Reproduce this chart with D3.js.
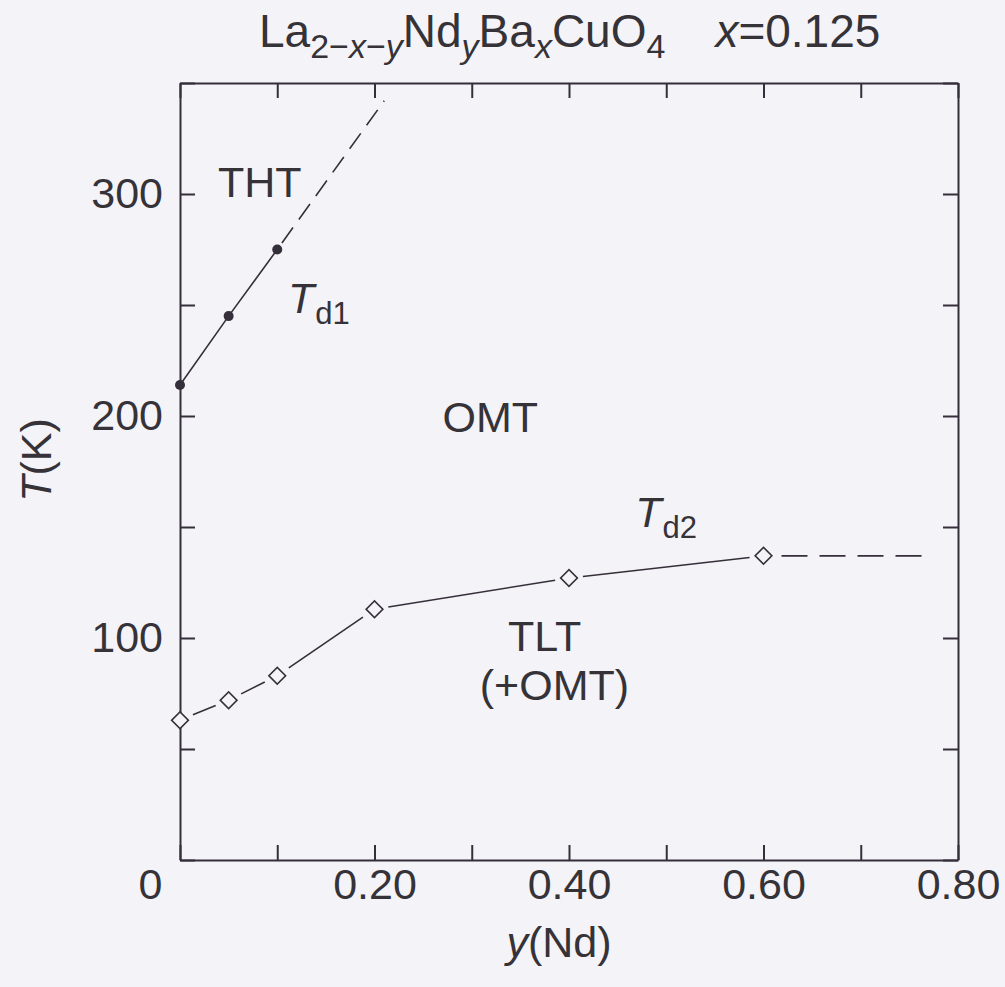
<!DOCTYPE html>
<html>
<head>
<meta charset="utf-8">
<script src="https://cdn.jsdelivr.net/npm/d3@7"></script>
<style>
  html, body { margin: 0; padding: 0; background: #f4f3f7; }
  svg { display: block; }
  text { font-family: "Liberation Sans", Arial, Helvetica, sans-serif; fill: #353238; }
</style>
</head>
<body>
<svg id="chart" width="1005" height="987"></svg>
<script>
// Nd content y and transition temperatures (K)
const ndTd1 = [0, 0.05, 0.10];
const td1 = [214, 245, 275];
const ndTd1Ext = [0.10, 0.21];          // extrapolated THT/OMT boundary
const td1Ext = [275, 342];

const ndTd2 = [0, 0.05, 0.10, 0.20, 0.40, 0.60];
const td2 = [63, 72, 83, 113, 127, 137];
const ndTd2Ext = [0.60, 0.77];          // extrapolated OMT/TLT boundary
const td2Ext = [137, 137];

const xTicks = [0, 0.1, 0.2, 0.3, 0.4, 0.5, 0.6, 0.7, 0.8];
const xTickLabels = ["0", "", "0.20", "", "0.40", "", "0.60", "", "0.80"];
const yTicks = [0, 50, 100, 150, 200, 250, 300, 350];
const yTickLabels = ["", "", "100", "", "200", "", "300", ""];

// phase-region labels, placed in data coordinates
const regionNames = ["THT", "OMT", "TLT", "(+OMT)"];
const regionNd = [0.039, 0.270, 0.375, 0.385];
const regionT = [298.5, 193, 94, 72];
const regionAnchor = ["start", "start", "middle", "middle"];

const ink = "#352f3b";
const svg = d3.select("#chart");

const mLeft = 180, mRight = 958, mTop = 83, mBottom = 860;
const x = d3.scaleLinear().domain([0, 0.8]).range([mLeft, mRight]);
const y = d3.scaleLinear().domain([0, 350]).range([mBottom, mTop]);

// ---- axes: inward ticks on all four sides ----
function styleAxis(g) {
  g.selectAll(".domain").attr("stroke", ink).attr("stroke-width", 2);
  g.selectAll(".tick line").attr("stroke", ink).attr("stroke-width", 2);
  g.selectAll(".tick text").attr("fill", "#353238")
    .style("font-family", '"Liberation Sans", Arial, sans-serif')
    .style("font-size", "43px");
}

svg.append("g")
  .attr("transform", `translate(0,${mBottom})`)
  .call(d3.axisBottom(x).tickValues(xTicks).tickSizeInner(-15).tickSizeOuter(0)
        .tickPadding(8).tickFormat((d, i) => xTickLabels[i]))
  .call(styleAxis)
  .call(g => g.selectAll(".tick text").filter(d => d === 0).attr("dx", -30));

svg.append("g")
  .attr("transform", `translate(0,${mTop})`)
  .call(d3.axisTop(x).tickValues(xTicks).tickSizeInner(-15).tickSizeOuter(0).tickFormat(""))
  .call(styleAxis);

svg.append("g")
  .attr("transform", `translate(${mLeft},0)`)
  .call(d3.axisLeft(y).tickValues(yTicks).tickSizeInner(-15).tickSizeOuter(0)
        .tickPadding(17).tickFormat((d, i) => yTickLabels[i]))
  .call(styleAxis);

svg.append("g")
  .attr("transform", `translate(${mRight},0)`)
  .call(d3.axisRight(y).tickValues(yTicks).tickSizeInner(-15).tickSizeOuter(0).tickFormat(""))
  .call(styleAxis);

// ---- axis titles ----
svg.append("text")
  .attr("x", (mLeft + mRight) / 2 - 10).attr("y", 957)
  .attr("text-anchor", "middle").style("font-size", "43px")
  .call(t => {
    t.append("tspan").attr("font-style", "italic").text("y");
    t.append("tspan").text("(Nd)");
  });

svg.append("text")
  .attr("transform", "translate(51,460) rotate(-90)")
  .attr("text-anchor", "middle").style("font-size", "43px")
  .call(t => {
    t.append("tspan").attr("font-style", "italic").text("T");
    t.append("tspan").text("(K)");
  });

// ---- title: La2-x-yNdyBaxCuO4   x=0.125 ----
const title = svg.append("text")
  .attr("x", 259).attr("y", 47)
  .attr("text-anchor", "start").style("font-size", "46px");
const sub = 11;
title.append("tspan").text("La");
const s1 = title.append("tspan").attr("dy", sub).style("font-size", "34px");
s1.append("tspan").text("2−");
s1.append("tspan").attr("font-style", "italic").text("x");
s1.append("tspan").text("−");
s1.append("tspan").attr("font-style", "italic").text("y");
title.append("tspan").attr("dy", -sub).text("Nd");
title.append("tspan").attr("dy", sub).style("font-size", "34px").attr("font-style", "italic").text("y");
title.append("tspan").attr("dy", -sub).text("Ba");
title.append("tspan").attr("dy", sub).style("font-size", "34px").attr("font-style", "italic").text("x");
title.append("tspan").attr("dy", -sub).text("CuO");
title.append("tspan").attr("dy", sub).style("font-size", "34px").text("4");
title.append("tspan").attr("dy", -sub).attr("dx", 50).attr("font-style", "italic").text("x");
title.append("tspan").text("=0.125");

// ---- Td1 boundary: solid through the data, dashed extrapolation ----
const line = d3.line().x(d => x(d[0])).y(d => y(d[1]));
const td1Pts = ndTd1.map((v, i) => [v, td1[i]]);
const td1ExtPts = ndTd1Ext.map((v, i) => [v, td1Ext[i]]);

svg.append("path").datum(td1Pts).attr("d", line)
  .attr("fill", "none").attr("stroke", ink).attr("stroke-width", 1.6);
svg.append("path").datum(td1ExtPts).attr("d", line)
  .attr("fill", "none").attr("stroke", ink).attr("stroke-width", 1.6)
  .attr("stroke-dasharray", "19,10").attr("stroke-dashoffset", -8);

svg.append("g").selectAll("circle").data(td1Pts).join("circle")
  .attr("cx", d => x(d[0])).attr("cy", d => y(d[1])).attr("r", 5)
  .attr("fill", ink);

// ---- Td2 boundary: segments stop short of the open diamonds ----
const td2Pts = ndTd2.map((v, i) => [v, td2[i]]);
const gap = 14;
function shortSeg(a, b, g0, g1) {
  const ax = x(a[0]), ay = y(a[1]), bx = x(b[0]), by = y(b[1]);
  const len = Math.hypot(bx - ax, by - ay);
  const ux = (bx - ax) / len, uy = (by - ay) / len;
  return [[ax + ux * g0, ay + uy * g0], [bx - ux * g1, by - uy * g1]];
}
const segs = d3.pairs(td2Pts).map(([a, b]) => shortSeg(a, b, gap, gap));
svg.append("g").selectAll("line").data(segs).join("line")
  .attr("x1", d => d[0][0]).attr("y1", d => d[0][1])
  .attr("x2", d => d[1][0]).attr("y2", d => d[1][1])
  .attr("stroke", ink).attr("stroke-width", 1.6);

const ext = shortSeg([ndTd2Ext[0], td2Ext[0]], [ndTd2Ext[1], td2Ext[1]], 18, 0);
svg.append("line")
  .attr("x1", ext[0][0]).attr("y1", ext[0][1])
  .attr("x2", ext[1][0]).attr("y2", ext[1][1])
  .attr("stroke", ink).attr("stroke-width", 1.6)
  .attr("stroke-dasharray", "26,12");

const diamond = d3.symbol().type(d3.symbolSquare).size(140);
svg.append("g").selectAll("path").data(td2Pts).join("path")
  .attr("d", diamond)
  .attr("transform", d => `translate(${x(d[0])},${y(d[1])}) rotate(45)`)
  .attr("fill", "#f4f3f7").attr("stroke", ink).attr("stroke-width", 1.6);

// ---- region labels ----
svg.append("g").selectAll("text").data(regionNames).join("text")
  .attr("x", (d, i) => x(regionNd[i])).attr("y", (d, i) => y(regionT[i]))
  .attr("text-anchor", (d, i) => regionAnchor[i])
  .style("font-size", "43px")
  .text(d => d);

// transition-line labels Td1 and Td2
function tLabel(nd, t, subText) {
  const g = svg.append("text").attr("x", x(nd)).attr("y", y(t)).style("font-size", "43px");
  g.append("tspan").attr("font-style", "italic").text("T");
  g.append("tspan").attr("dy", 11).attr("dx", 1).style("font-size", "31px").text(subText);
}
tLabel(0.111, 246.5, "d1");
tLabel(0.468, 150, "d2");
</script>
</body>
</html>
